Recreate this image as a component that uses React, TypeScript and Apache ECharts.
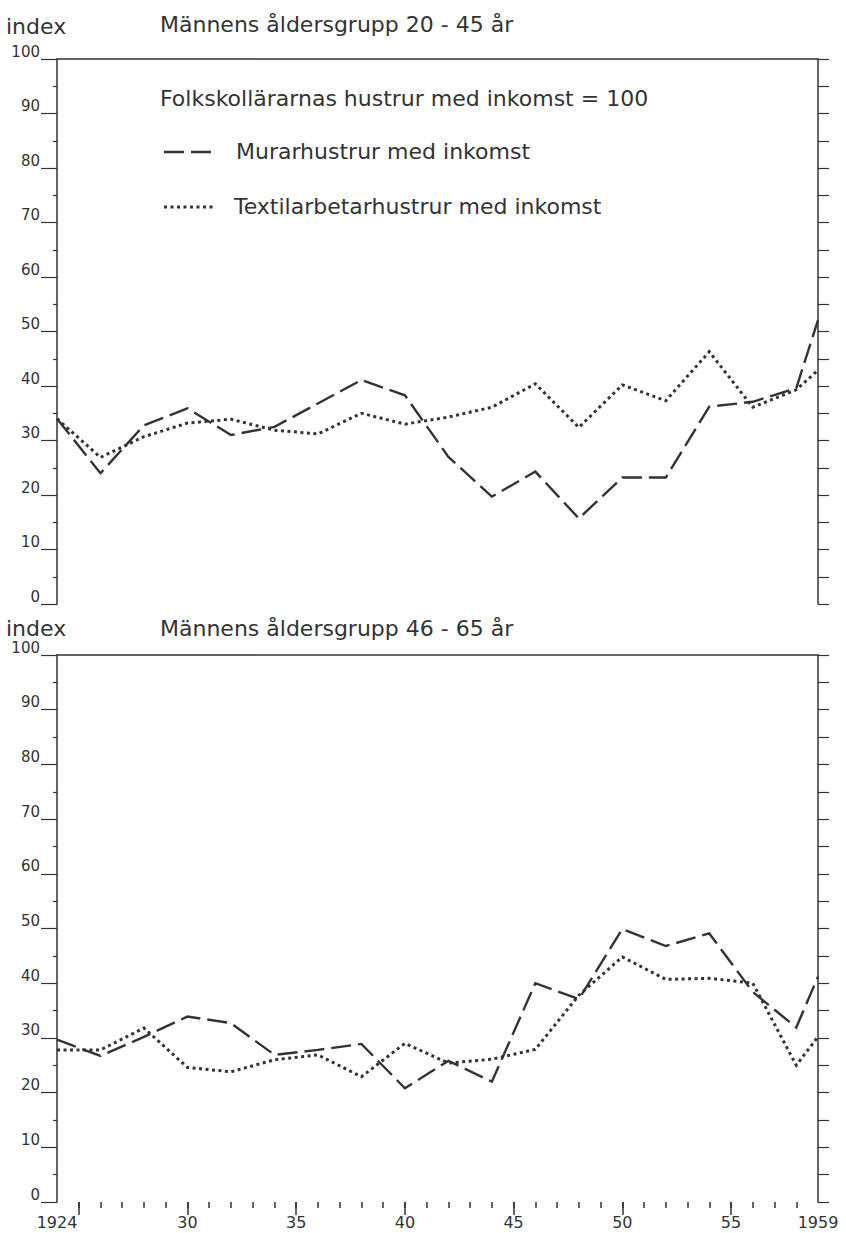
import React, { useEffect, useRef } from "react";
import * as echarts from "echarts";

// ---- data ----
const years = [1924, 1926, 1928, 1930, 1932, 1934, 1936, 1938, 1940, 1942, 1944, 1946, 1948, 1950, 1952, 1954, 1956, 1958, 1959];

// Männens åldersgrupp 20-45 år
const topMurare = [34, 24, 32.8, 35.9, 31, 32.5, 36.8, 41.1, 38.3, 27, 19.7, 24.3, 15.7, 23.2, 23.2, 36.2, 37.1, 39.6, 52.1];
const topTextil = [34, 26.9, 30.7, 33.2, 33.9, 31.9, 31.2, 35.0, 33.0, 34.3, 36.1, 40.4, 32.4, 40.2, 37.3, 46.3, 36.1, 39.3, 42.9];

// Männens åldersgrupp 46-65 år
const bottomMurare = [29.7, 26.7, 30.2, 33.9, 32.7, 26.9, 27.8, 28.9, 20.8, 25.8, 22.0, 40.0, 37.1, 49.9, 46.8, 49.1, 38.4, 31.9, 41.2];
const bottomTextil = [27.8, 27.8, 31.8, 24.6, 23.8, 26.0, 26.9, 22.9, 29.0, 25.4, 26.1, 27.9, 37.8, 44.8, 40.7, 40.9, 40.0, 25.0, 30.2];

const minorYears = [1925, 1926, 1927, 1928, 1929, 1930, 1931, 1932, 1933, 1934, 1935, 1936, 1937, 1938, 1939, 1940, 1941, 1942, 1943, 1944, 1945, 1946, 1947, 1948, 1949, 1950, 1951, 1952, 1953, 1954, 1955, 1956, 1957, 1958];
const majorYears = [1925, 1930, 1935, 1940, 1945, 1950, 1955];
const labelYears = [1924, 1930, 1935, 1940, 1945, 1950, 1955, 1959];

const titleTop = "Männens åldersgrupp 20 - 45 år";
const titleBottom = "Männens åldersgrupp 46 - 65 år";
const legendHead = "Folkskollärarnas hustrur med inkomst = 100";
const legendMurare = "Murarhustrur med inkomst";
const legendTextil = "Textilarbetarhustrur med inkomst";

const INK = "#333";
const FONT = "DejaVu Sans";
const DASH = [20, 7];
const DOT = [3, 3.5];

export default function App() {
  const ref = useRef<HTMLDivElement>(null);

  useEffect(() => {
    document.body.style.margin = "0";
    const chart = echarts.init(ref.current!, null, { renderer: "svg" });
    const pair = (vals: number[]) => years.map((y, i) => [y, vals[i]]);

    const leftY = (gridIndex: number) => ({
      type: "value",
      gridIndex,
      position: "left",
      min: 0,
      max: 100,
      interval: 10,
      axisLine: { show: true, onZero: false, lineStyle: { color: INK, width: 1.5 } },
      axisTick: { show: true, length: 16, lineStyle: { color: INK, width: 1.2 } },
      minorTick: { show: true, splitNumber: 2, length: 4, lineStyle: { color: INK, width: 1.2 } },
      axisLabel: {
        show: true,
        margin: 17,
        fontSize: 15,
        lineHeight: 15,
        color: INK,
        fontFamily: FONT,
        verticalAlign: "bottom",
      },
      splitLine: { show: false },
    });
    const rightY = (gridIndex: number) => ({
      type: "value",
      gridIndex,
      position: "right",
      min: 0,
      max: 100,
      interval: 5,
      axisLine: { show: true, onZero: false, lineStyle: { color: INK, width: 1.5 } },
      axisTick: { show: true, length: 11, lineStyle: { color: INK, width: 1.2 } },
      axisLabel: { show: false },
      splitLine: { show: false },
    });
    const topX = (gridIndex: number) => ({
      type: "value",
      gridIndex,
      position: "top",
      min: 1924,
      max: 1959,
      axisLine: { show: true, onZero: false, lineStyle: { color: INK, width: 1.5 } },
      axisTick: { show: false },
      axisLabel: { show: false },
      splitLine: { show: false },
    });

    const lineSeries = (name: string, xi: number, yi: number, vals: number[], dash: number[], width: number) => ({
      name,
      type: "line",
      xAxisIndex: xi,
      yAxisIndex: yi,
      data: pair(vals),
      symbol: "none",
      lineStyle: { color: INK, width, type: dash, cap: "butt", join: "miter" },
    });

    const text = (x: number, y: number, t: string, size = 22) => ({
      type: "text",
      x,
      y,
      style: { text: t, fill: INK, font: `${size}px "${FONT}"`, textVerticalAlign: "middle", verticalAlign: "middle" },
    });

    chart.setOption({
      animation: false,
      backgroundColor: "#fff",
      grid: [
        { left: 57, right: 28, top: 59, height: 545 },
        { left: 57, right: 28, top: 655, height: 547 },
      ],
      xAxis: [
        topX(0),
        topX(1),
        {
          type: "value",
          gridIndex: 1,
          position: "bottom",
          min: 1924,
          max: 1959,
          axisLine: { show: false, onZero: false },
          axisTick: { show: true, length: 6, customValues: minorYears, lineStyle: { color: INK, width: 1.5 } },
          axisLabel: { show: false },
          splitLine: { show: false },
        },
        {
          type: "value",
          gridIndex: 1,
          position: "bottom",
          min: 1924,
          max: 1959,
          axisLine: { show: false, onZero: false },
          axisTick: { show: true, length: 13, customValues: majorYears, lineStyle: { color: INK, width: 1.5 } },
          axisLabel: {
            show: true,
            customValues: labelYears,
            margin: 12,
            fontSize: 16,
            lineHeight: 16,
            color: INK,
            fontFamily: FONT,
            formatter: (v: number) => (v === 1924 || v === 1959 ? String(v) : String(v).slice(2)),
          },
          splitLine: { show: false },
        },
      ],
      yAxis: [leftY(0), rightY(0), leftY(1), rightY(1)],
      series: [
        lineSeries(legendMurare, 0, 0, topMurare, DASH, 2.4),
        lineSeries(legendTextil, 0, 0, topTextil, DOT, 3),
        lineSeries(legendMurare, 1, 2, bottomMurare, DASH, 2.4),
        lineSeries(legendTextil, 1, 2, bottomTextil, DOT, 3),
      ],
      graphic: [
        text(6, 26, "index"),
        text(160, 24, titleTop),
        text(6, 628, "index"),
        text(160, 628, titleBottom),
        text(160, 98, legendHead),
        {
          type: "line",
          shape: { x1: 164, y1: 152, x2: 216, y2: 152 },
          style: { stroke: INK, lineWidth: 2.4, lineDash: DASH },
        },
        text(236, 151, legendMurare),
        {
          type: "line",
          shape: { x1: 164, y1: 207, x2: 216, y2: 207 },
          style: { stroke: INK, lineWidth: 3, lineDash: DOT },
        },
        text(234, 206, legendTextil),
      ],
    });
    return () => chart.dispose();
  }, []);

  return <div ref={ref} style={{ position: "absolute", left: 0, top: 0, width: 846, height: 1233 }} />;
}
